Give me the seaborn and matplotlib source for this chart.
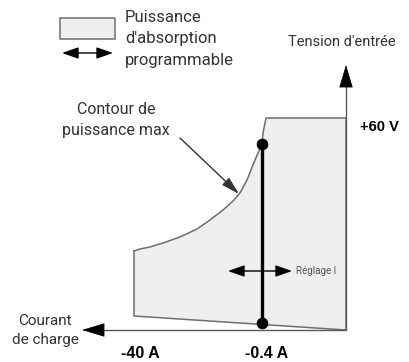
import matplotlib
matplotlib.use("Agg")
import matplotlib.pyplot as plt
import seaborn as sns
import pandas as pd

sns.set_style("white")
plt.rcParams["font.family"] = ["Roboto", "DejaVu Sans"]

# --------------------------------------------------
# Diagram data (origin = axis crossing, current to the left)
# --------------------------------------------------

# max power contour, from the left edge up to the top corner
contour_i = [-212, -206, -196, -183, -166, -149, -136, -123, -113,
             -106, -99, -93, -88, -84, -83, -80]
contour_v = [79, 81, 83, 87, 93, 101, 110, 120, 129,
             137, 150, 165, 177, 186, 197, 212]

# rest of the region outline (top, right side, sloped bottom, left side)
outline_i = [-80, 0, 0, -212, -212]
outline_v = [212, 212, 0, 14, 79]

# adjustable current setting line and its end points
setting_i = [-84, -84]
setting_v = [186, 7]

current_labels = ["-40 A", "-0.4 A"]
current_label_pos = [-206, -79]
voltage_label = "+60 V"

GRAY_EDGE = "#6f6f6f"
AXIS_GRAY = "#5a5a5a"
FILL = "#efefef"
TEXT = "#333333"


fig = plt.figure(figsize=(4.09, 3.62), dpi=100)
ax = fig.add_axes([0, 0, 1, 1])
ax.set_xlim(-346, 63)
ax.set_ylim(-32, 330)
ax.axis("off")

# shaded region
region_i = contour_i + outline_i
region_v = contour_v + outline_v
ax.fill(region_i, region_v, color=FILL, zorder=1)

region = pd.DataFrame({"i": region_i + [contour_i[0]],
                       "v": region_v + [contour_v[0]]})
sns.lineplot(data=region, x="i", y="v", sort=False, estimator=None,
             color=GRAY_EDGE, linewidth=1.1, ax=ax, zorder=2)

# setting line with dots
setting = pd.DataFrame({"i": setting_i, "v": setting_v})
sns.lineplot(data=setting, x="i", y="v", sort=False, estimator=None,
             color="black", linewidth=2.4, ax=ax, zorder=3)
sns.scatterplot(data=setting, x="i", y="v", color="black", s=60,
                edgecolor="black", ax=ax, zorder=4)

ax.set_xlabel("")
ax.set_ylabel("")

# axes: gray shafts with black arrow heads
ax.plot([0, -250], [0, 0], color=AXIS_GRAY, lw=1.0, zorder=2)
ax.plot([0, 0], [0, 250], color=AXIS_GRAY, lw=1.0, zorder=2)
head = dict(arrowstyle="-|>,head_length=1.5,head_width=0.45",
            color="black", lw=0.5, mutation_scale=10,
            shrinkA=0, shrinkB=0)
ax.annotate("", xy=(-264, 0), xytext=(-244, 0), arrowprops=head)
ax.annotate("", xy=(0, 265), xytext=(0, 245), arrowprops=head)

double_arrow = dict(arrowstyle="<|-|>,head_length=1.0,head_width=0.35",
                    color="black", lw=1.0, mutation_scale=10,
                    shrinkA=0, shrinkB=0)

# Réglage I double arrow
ax.annotate("", xy=(-118, 59), xytext=(-54, 59), arrowprops=double_arrow)
ax.text(-50, 59, "Réglage I", fontsize=7, color="#555555",
        ha="left", va="center")

# legend box and arrow
ax.fill([-286, -231, -231, -286], [312, 312, 291, 291],
        facecolor=FILL, edgecolor=GRAY_EDGE, linewidth=1.1)
ax.annotate("", xy=(-284, 277), xytext=(-233, 277), arrowprops=double_arrow)
for k, line in enumerate(["Puissance", "d'absorption", "programmable"]):
    ax.text(-221, 313 - 22 * k, line, fontsize=12, color=TEXT,
            ha="left", va="center")

# contour annotation
ax.text(-230, 220, "Contour de", fontsize=11.5, color=TEXT,
        ha="center", va="center")
ax.text(-230, 200, "puissance max", fontsize=11.5, color=TEXT,
        ha="center", va="center")
ax.annotate("", xy=(-107, 136), xytext=(-166, 192),
            arrowprops=dict(arrowstyle="-|>,head_length=1.1,head_width=0.3",
                            color="#333333", lw=1.0, mutation_scale=10,
                            shrinkA=0, shrinkB=0))

# axis titles
ax.text(-4, 288, "Tension d'entrée", fontsize=10.5, color=TEXT,
        ha="center", va="center")
ax.text(-301, 9, "Courant", fontsize=11, color=TEXT,
        ha="center", va="center")
ax.text(-301, -10, "de charge", fontsize=11, color=TEXT,
        ha="center", va="center")

# value labels
ax.text(14, 203, voltage_label, fontsize=10.5, fontweight="bold",
        family="Liberation Sans", color="black", ha="left", va="center")
for pos, lab in zip(current_label_pos, current_labels):
    ax.text(pos, -23, lab, fontsize=11.5, fontweight="bold",
            family="Liberation Sans", color="black",
            ha="center", va="center")

fig.savefig("out.png", dpi=100)
